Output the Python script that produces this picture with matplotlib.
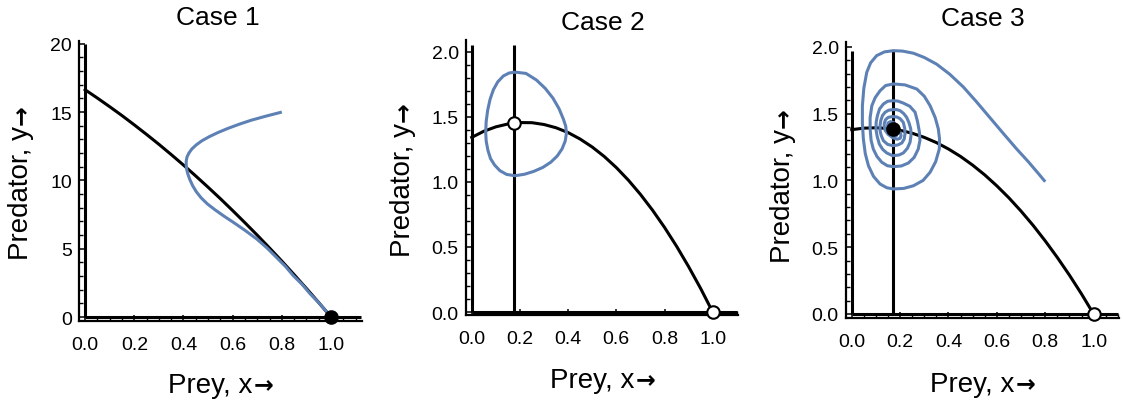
import matplotlib
matplotlib.use("Agg")
import matplotlib.pyplot as plt
from matplotlib.ticker import MultipleLocator, FormatStrFormatter

plt.rcParams['font.family'] = ['Liberation Sans', 'DejaVu Sans']

BLUE = '#5E81B5'

# ---------------- data ----------------
titles = ["Case 1", "Case 2", "Case 3"]
xlabel_text = "Prey, x"
ylabel_text = "Predator, y"
arrow = "\u2192"

nc_x = [0.0, 0.05, 0.1, 0.15, 0.2, 0.25, 0.3, 0.35, 0.4, 0.45, 0.5,
        0.55, 0.6, 0.65, 0.7, 0.75, 0.8, 0.85, 0.9, 0.95, 1.0]

# prey nullclines (humped curves)
nc1_y = [16.63, 16.02, 15.39, 14.74, 14.06, 13.36, 12.64, 11.89, 11.12, 10.32, 9.50,
         8.66, 7.79, 6.90, 5.99, 5.05, 4.09, 3.10, 2.09, 1.06, 0.0]
nc2_y = [1.343, 1.390, 1.424, 1.446, 1.457, 1.456, 1.442, 1.417, 1.380, 1.330, 1.269,
         1.196, 1.111, 1.014, 0.905, 0.784, 0.651, 0.506, 0.349, 0.181, 0.0]
nc3_y = [1.380, 1.391, 1.394, 1.389, 1.375, 1.353, 1.322, 1.283, 1.235, 1.179, 1.114,
         1.041, 0.959, 0.869, 0.770, 0.663, 0.547, 0.423, 0.291, 0.150, 0.0]

# predator nullcline positions (vertical lines) and their top ends
pred_nc_x = [None, 0.177, 0.170]
line_top = [20.0, 2.05, 1.97]
line_right = [1.12, 1.10, 1.10]

# trajectories
traj1_x = [0.80, 0.735, 0.675, 0.625, 0.58, 0.54, 0.505, 0.475, 0.452, 0.434, 0.422,
           0.414, 0.411, 0.411, 0.413, 0.418, 0.426, 0.437, 0.452, 0.472, 0.497, 0.528,
           0.565, 0.607, 0.652, 0.698, 0.74, 0.779, 0.815, 0.847, 0.882, 0.915, 0.95,
           0.982, 1.0]
traj1_y = [15.0, 14.7, 14.4, 14.1, 13.8, 13.5, 13.2, 12.9, 12.6, 12.3, 12.0,
           11.7, 11.4, 11.1, 10.8, 10.45, 10.05, 9.62, 9.17, 8.72, 8.28, 7.85,
           7.38, 6.88, 6.32, 5.71, 5.05, 4.35, 3.7, 3.02, 2.4, 1.7, 1.05,
           0.4, 0.0]

traj2_x = [0.18, 0.225, 0.268, 0.305, 0.337, 0.362, 0.38, 0.39, 0.393, 0.388, 0.375, 0.355,
           0.328, 0.295, 0.258, 0.22, 0.18, 0.145, 0.117, 0.095, 0.078, 0.067, 0.060, 0.058,
           0.060, 0.066, 0.076, 0.09, 0.108, 0.131, 0.155, 0.18]
traj2_y = [1.845, 1.835, 1.785, 1.72, 1.645, 1.565, 1.485, 1.43, 1.375, 1.315, 1.255, 1.20,
           1.152, 1.112, 1.082, 1.060, 1.048, 1.058, 1.087, 1.13, 1.18, 1.245, 1.315, 1.382,
           1.465, 1.55, 1.635, 1.71, 1.77, 1.815, 1.838, 1.845]

traj3_x = [0.80, 0.77, 0.73, 0.682, 0.625, 0.571, 0.515, 0.461, 0.405, 0.351, 0.30, 0.255,
           0.21, 0.172, 0.135, 0.103, 0.078, 0.062, 0.05, 0.044, 0.044, 0.048, 0.056, 0.069,
           0.09, 0.117, 0.145, 0.172, 0.215, 0.255, 0.295, 0.324, 0.347, 0.362, 0.363, 0.358,
           0.345, 0.324, 0.30, 0.269, 0.22, 0.172, 0.14, 0.117, 0.097, 0.083, 0.076, 0.076,
           0.08, 0.089, 0.104, 0.124, 0.147, 0.172, 0.205, 0.234, 0.258, 0.275, 0.282, 0.28,
           0.272, 0.262, 0.24, 0.213, 0.19, 0.169, 0.148, 0.131, 0.115, 0.106, 0.101, 0.1,
           0.105, 0.114, 0.128, 0.145, 0.169, 0.195, 0.213, 0.23, 0.241, 0.245, 0.244, 0.237,
           0.227, 0.215, 0.2, 0.185, 0.169, 0.152, 0.138, 0.127, 0.12, 0.117, 0.117, 0.122,
           0.131, 0.148, 0.169, 0.19, 0.207, 0.217, 0.22, 0.219, 0.213, 0.2, 0.186, 0.168,
           0.151, 0.14, 0.135, 0.134, 0.138, 0.15, 0.169, 0.188, 0.2, 0.204, 0.2, 0.19,
           0.176, 0.16, 0.15, 0.148, 0.152, 0.163, 0.175, 0.185, 0.188, 0.183, 0.17]
traj3_y = [0.99, 1.055, 1.14, 1.235, 1.355, 1.47, 1.59, 1.70, 1.795, 1.87, 1.92, 1.952,
           1.968, 1.971, 1.962, 1.934, 1.88, 1.809, 1.69, 1.559, 1.43, 1.31, 1.2, 1.11,
           1.03, 0.973, 0.945, 0.936, 0.94, 0.96, 1.0, 1.061, 1.14, 1.235, 1.31, 1.385,
           1.47, 1.559, 1.63, 1.684, 1.715, 1.722, 1.71, 1.671, 1.62, 1.559, 1.47, 1.385,
           1.30, 1.235, 1.18, 1.136, 1.11, 1.103, 1.108, 1.13, 1.172, 1.235, 1.30, 1.36,
           1.44, 1.51, 1.555, 1.579, 1.594, 1.597, 1.592, 1.572, 1.535, 1.484, 1.435, 1.385,
           1.33, 1.272, 1.232, 1.205, 1.185, 1.19, 1.205, 1.24, 1.285, 1.335, 1.385, 1.43,
           1.472, 1.50, 1.522, 1.53, 1.53, 1.525, 1.51, 1.485, 1.447, 1.41, 1.372, 1.335,
           1.297, 1.27, 1.26, 1.265, 1.28, 1.31, 1.347, 1.39, 1.435, 1.462, 1.475, 1.478,
           1.472, 1.455, 1.43, 1.41, 1.375, 1.345, 1.32, 1.308, 1.315, 1.335, 1.36, 1.39,
           1.43, 1.44, 1.43, 1.41, 1.38, 1.35, 1.33, 1.335, 1.355, 1.38, 1.385]

traj_x = [traj1_x, traj2_x, traj3_x]
traj_y = [traj1_y, traj2_y, traj3_y]
nc_y = [nc1_y, nc2_y, nc3_y]

# equilibria: (x, y, filled?)
equilibria = [
    [(1.0, 0.0, True)],
    [(0.177, 1.454, False), (1.0, 0.0, False)],
    [(0.170, 1.385, True), (1.0, 0.0, False)],
]

xticks = [0.0, 0.2, 0.4, 0.6, 0.8, 1.0]
yticks = [[0, 5, 10, 15, 20], [0.0, 0.5, 1.0, 1.5, 2.0], [0.0, 0.5, 1.0, 1.5, 2.0]]
yminor = [1.0, 0.1, 0.1]
yfmt = ['%d', '%.1f', '%.1f']

# ---------------- layout ----------------
W, H = 1123, 402
fig = plt.figure(figsize=(W / 100, H / 100), dpi=100)
renderer = fig.canvas.get_renderer()

# pixel boxes: left, right, top, bottom
boxes = [(79, 362, 42, 322), (465.7, 738, 41, 316), (845.7, 1119, 43, 319)]
xlims = [(-0.025, 1.126), (-0.025, 1.105), (-0.025, 1.105)]
ylims = [(-0.29, 20.2), (-0.023, 2.092), (-0.03, 2.036)]
title_pos = [(218, 18), (603, 23), (983, 19)]
# x label: (center x, baseline y) in px from top-left
xlabel_pos = [(220, 393), (602, 388), (982, 392)]
# y label: (baseline x, start y) in px from top-left
ylabel_pos = [(28.5, 260), (410, 257), (790, 263)]

LABEL_FS = 20
ARROW_FS = 17
arrow_props = dict(fontsize=ARROW_FS, family='DejaVu Sans', fontweight='bold')


def place_xlabel(cx, by):
    t1 = fig.text(0, 0, xlabel_text, fontsize=LABEL_FS, ha='left', va='baseline')
    t2 = fig.text(0, 0, arrow, ha='left', va='baseline', **arrow_props)
    w1 = t1.get_window_extent(renderer).width
    w2 = t2.get_window_extent(renderer).width
    x0 = cx - (w1 + w2) / 2
    t1.set_position((x0 / W, 1 - by / H))
    t2.set_position(((x0 + w1 + 1) / W, 1 - (by - 0.5) / H))


def place_ylabel(bx, sy):
    t1 = fig.text(bx / W, 1 - sy / H, ylabel_text, fontsize=LABEL_FS, ha='left',
                  va='baseline', rotation=90, rotation_mode='anchor')
    h1 = t1.get_window_extent(renderer).height
    fig.text((bx - 0.5) / W, 1 - (sy - h1 - 1) / H, arrow, ha='left', va='baseline',
             rotation=90, rotation_mode='anchor', **arrow_props)


LW = 2.2
for i in range(3):
    l, r, t, b = boxes[i]
    ax = fig.add_axes([l / W, 1 - b / H, (r - l) / W, (b - t) / H])
    ax.set_xlim(*xlims[i])
    ax.set_ylim(*ylims[i])
    for s in ['top', 'right']:
        ax.spines[s].set_visible(False)
    for s in ['left', 'bottom']:
        ax.spines[s].set_linewidth(1.6)
    ax.set_xticks(xticks)
    ax.xaxis.set_minor_locator(MultipleLocator(0.05))
    ax.xaxis.set_major_formatter(FormatStrFormatter('%.1f'))
    ax.set_yticks(yticks[i])
    ax.yaxis.set_minor_locator(MultipleLocator(yminor[i]))
    ax.yaxis.set_major_formatter(FormatStrFormatter(yfmt[i]))
    ax.tick_params(which='major', direction='in', length=4, width=1.1,
                   labelsize=14, colors='black')
    ax.tick_params(which='minor', direction='in', length=3, width=1.0)
    ax.tick_params(axis='x', which='major', pad=10.5)
    ax.tick_params(axis='y', which='major', pad=5)

    # axis nullclines x=0 and y=0
    ax.plot([0, 0], [0, line_top[i]], color='black', lw=LW, zorder=3,
            solid_capstyle='butt')
    ax.plot([0, line_right[i]], [0, 0], color='black', lw=LW, zorder=3,
            solid_capstyle='butt')
    if pred_nc_x[i] is not None:
        ax.plot([pred_nc_x[i], pred_nc_x[i]], [0, line_top[i]], color='black',
                lw=LW, zorder=3, solid_capstyle='butt')
    ax.plot(nc_x, nc_y[i], color='black', lw=LW, zorder=3)
    ax.plot(traj_x[i], traj_y[i], color=BLUE, lw=LW, zorder=4,
            solid_joinstyle='round', solid_capstyle='butt')
    for (ex, ey, filled) in equilibria[i]:
        ax.plot([ex], [ey], marker='o', ms=9,
                mfc='black' if filled else 'white', mec='black', mew=1.5,
                zorder=6, clip_on=False)

    fig.text(title_pos[i][0] / W, 1 - title_pos[i][1] / H, titles[i],
             ha='center', va='center', fontsize=19)
    place_xlabel(*xlabel_pos[i])
    place_ylabel(*ylabel_pos[i])

fig.savefig('out.png', dpi=100)
